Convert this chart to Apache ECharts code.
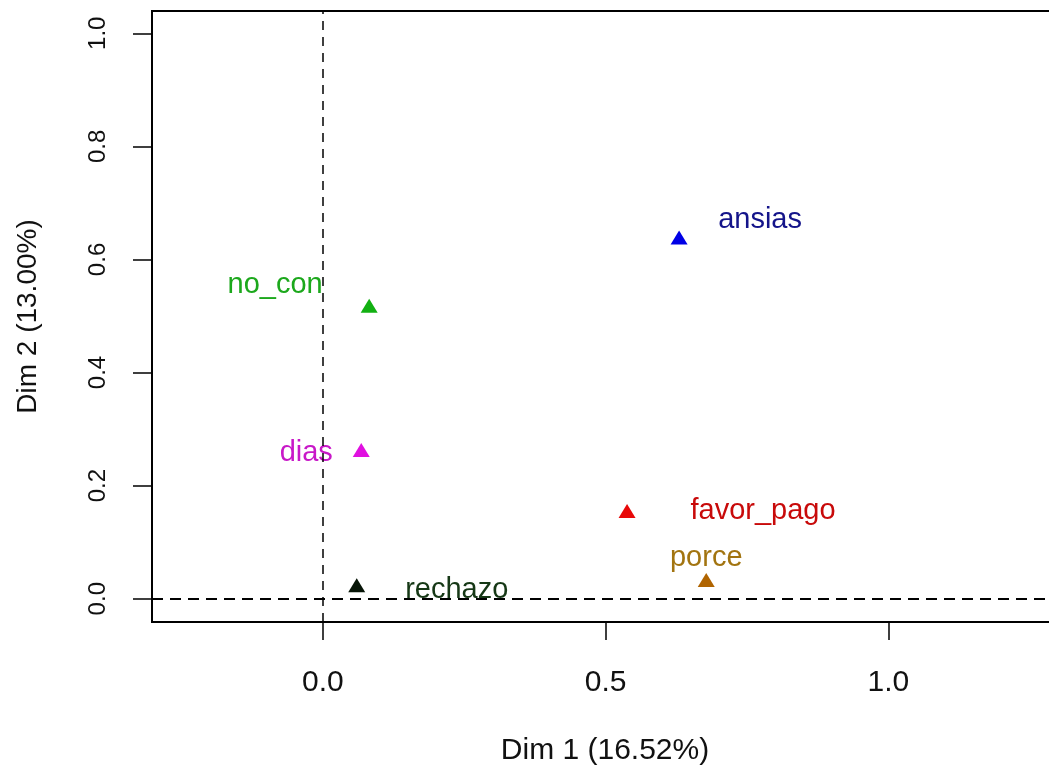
<!DOCTYPE html>
<html>
<head>
<meta charset="utf-8">
<script src="https://cdn.jsdelivr.net/npm/echarts@6/dist/echarts.min.js"></script>
<style>html,body{margin:0;padding:0;background:#fff;}#c{width:1049px;height:767px;}</style>
</head>
<body>
<div id="c"></div>
<script>
// ---- data ----
const names = ['ansias', 'no_con', 'dias', 'favor_pago', 'porce', 'rechazo'];
const dim1 = [0.630, 0.082, 0.068, 0.538, 0.678, 0.060];
const dim2 = [0.639, 0.518, 0.263, 0.155, 0.033, 0.024];
const xTicks = [0.0, 0.5, 1.0];
const yTicks = [0.0, 0.2, 0.4, 0.6, 0.8, 1.0];
const xTitle = 'Dim 1 (16.52%)';
const yTitle = 'Dim 2 (13.00%)';

// ---- styles (not data) ----
const markerColors = {ansias:'#0000E6', no_con:'#12B012', dias:'#E010E0', favor_pago:'#E80808', porce:'#B06400', rechazo:'#061406'};
const labelColors  = {ansias:'#14148A', no_con:'#1CA81C', dias:'#C818C8', favor_pago:'#C80A0A', porce:'#A27410', rechazo:'#163816'};
const labelOffsets = {ansias:[81,-17], no_con:[-94,-21], dias:[-55,3], favor_pago:[136,0], porce:[0,-22], rechazo:[100,5]};

const FONT = "'Liberation Sans', Arial, sans-serif";
const points = names.map((n, i) => ({
  name: n,
  value: [dim1[i], dim2[i]],
  itemStyle: {color: markerColors[n], opacity: 1},
  label: {
    show: true, formatter: n, position: 'inside', offset: labelOffsets[n],
    color: labelColors[n], fontSize: 29, fontFamily: FONT, align: 'center', verticalAlign: 'middle'
  }
}));

const chart = echarts.init(document.getElementById('c'), null, {renderer: 'canvas'});
chart.setOption({
  backgroundColor: '#fff',
  animation: false,
  grid: {left: 152, top: 11, right: -9, bottom: 145, show: true, borderColor: '#000', borderWidth: 2, outerBoundsMode: 'none'},
  xAxis: {
    type: 'value', min: -0.302, max: 1.3,
    name: xTitle, nameLocation: 'middle', nameGap: 114,
    nameTextStyle: {fontSize: 30, fontFamily: FONT, color: '#111'},
    axisLine: {show: false, onZero: false},
    axisTick: {show: true, length: 18, customValues: xTicks, lineStyle: {color: '#000', width: 1.5}},
    axisLabel: {customValues: xTicks, formatter: v => v.toFixed(1), fontSize: 30, fontFamily: FONT, color: '#111', margin: 46},
    splitLine: {show: false}
  },
  yAxis: {
    type: 'value', min: -0.0412, max: 1.0394,
    name: yTitle, nameLocation: 'middle', nameGap: 110, nameRotate: 90,
    nameTextStyle: {fontSize: 28, fontFamily: FONT, color: '#111'},
    axisLine: {show: false, onZero: false},
    axisTick: {show: true, length: 19, customValues: yTicks, lineStyle: {color: '#000', width: 1.5}},
    axisLabel: {customValues: yTicks, formatter: v => v.toFixed(1), fontSize: 24, fontFamily: FONT, color: '#111', rotate: 90, margin: 42},
    splitLine: {show: false}
  },
  series: [{
    type: 'scatter',
    symbol: 'triangle',
    symbolSize: [17, 14],
    itemStyle: {opacity: 1},
    data: points,
    markLine: {
      silent: true, symbol: 'none', animation: false,
      label: {show: false},
      data: [
        {xAxis: 0, lineStyle: {color: '#000', type: [9, 7], width: 1.5}},
        {yAxis: 0, lineStyle: {color: '#000', type: [11, 7], width: 2.2}}
      ]
    }
  }]
});
</script>
</body>
</html>
